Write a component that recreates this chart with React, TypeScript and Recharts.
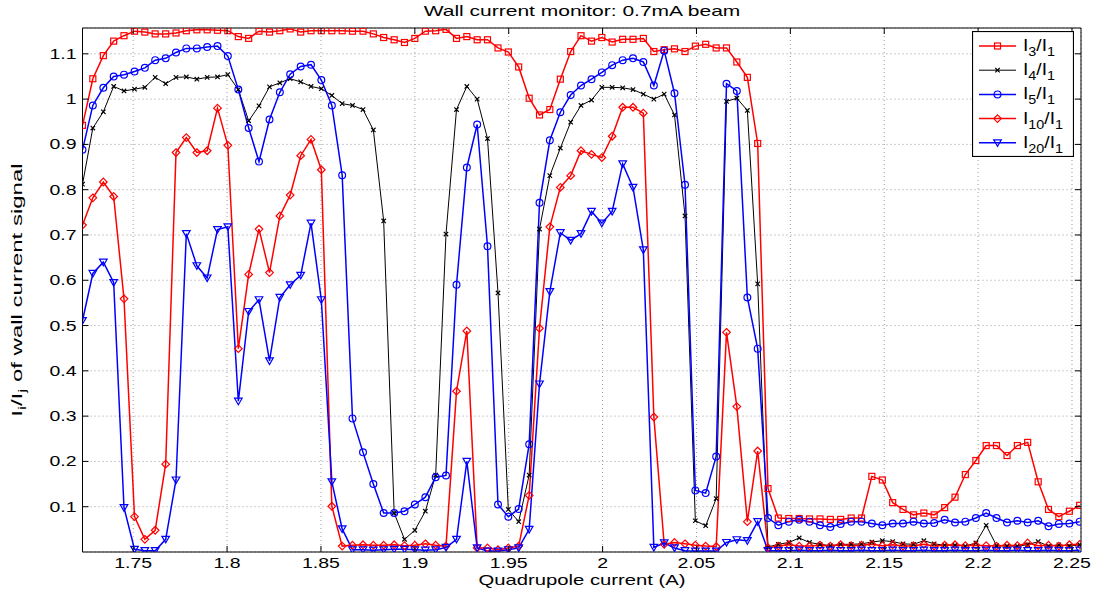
import React from "react";
import {
  LineChart,
  Line,
  XAxis,
  YAxis,
  CartesianGrid,
  ReferenceLine,
} from "recharts";

// quadrupole current (A), one entry per measurement
const currents = [
  1.723, 1.7285, 1.7341, 1.7396, 1.7451, 1.7507, 1.7562, 1.7617, 1.7673, 1.7728,
  1.7783, 1.7839, 1.7894, 1.7949, 1.8004, 1.806, 1.8115, 1.817, 1.8226, 1.8281,
  1.8336, 1.8392, 1.8447, 1.8502, 1.8558, 1.8613, 1.8668, 1.8724, 1.8779, 1.8834,
  1.889, 1.8945, 1.9, 1.9056, 1.9111, 1.9166, 1.9222, 1.9277, 1.9332, 1.9387,
  1.9443, 1.9498, 1.9553, 1.9609, 1.9664, 1.9719, 1.9775, 1.983, 1.9885, 1.9941,
  1.9996, 2.0051, 2.0107, 2.0162, 2.0217, 2.0273, 2.0328, 2.0383, 2.0439, 2.0494,
  2.0549, 2.0605, 2.066, 2.0715, 2.0771, 2.0826, 2.0881, 2.0936, 2.0992, 2.1047,
  2.1102, 2.1158, 2.1213, 2.1268, 2.1324, 2.1379, 2.1434, 2.149, 2.1545, 2.16,
  2.1656, 2.1711, 2.1766, 2.1822, 2.1877, 2.1932, 2.1988, 2.2043, 2.2098, 2.2154,
  2.2209, 2.2264, 2.232, 2.2375, 2.243, 2.2486, 2.2541,
];

const i3 = [
  0.942, 1.045, 1.096, 1.128, 1.14, 1.15, 1.148, 1.144, 1.144, 1.146,
  1.151, 1.153, 1.153, 1.152, 1.151, 1.138, 1.134, 1.15, 1.148, 1.151,
  1.155, 1.148, 1.151, 1.151, 1.151, 1.151, 1.15, 1.15, 1.144, 1.136,
  1.131, 1.125, 1.134, 1.15, 1.151, 1.154, 1.134, 1.138, 1.131, 1.131,
  1.113, 1.104, 1.071, 1.002, 0.965, 0.977, 1.044, 1.105, 1.14, 1.128,
  1.136, 1.126, 1.132, 1.132, 1.134, 1.105, 1.109, 1.111, 1.105, 1.117,
  1.121, 1.113, 1.113, 1.082, 1.048, 0.902, 0.14, 0.075, 0.074, 0.074,
  0.073, 0.073, 0.072, 0.072, 0.075, 0.075, 0.167, 0.159, 0.109, 0.094,
  0.082, 0.086, 0.082, 0.098, 0.121, 0.171, 0.202, 0.235, 0.235, 0.213,
  0.235, 0.242, 0.155, 0.094, 0.078, 0.09, 0.103,
];

const i4 = [
  0.812, 0.936, 0.972, 1.028, 1.018, 1.022, 1.026, 1.048, 1.034, 1.048,
  1.049, 1.044, 1.048, 1.049, 1.054, 1.021, 0.952, 0.985, 1.027, 1.036,
  1.045, 1.038, 1.028, 1.023, 1.008, 0.99, 0.986, 0.977, 0.932, 0.731,
  0.086, 0.028, 0.048, 0.09, 0.17, 0.702, 0.977, 1.028, 1.0, 0.913,
  0.572, 0.094, 0.067, 0.17, 0.713, 0.831, 0.892, 0.949, 0.986, 0.998,
  1.026, 1.026, 1.025, 1.021, 1.011, 1.0, 1.011, 0.965, 0.742, 0.069,
  0.058, 0.118, 0.995, 1.002, 0.975, 0.592, 0.011, 0.017, 0.021, 0.031,
  0.021, 0.017, 0.014, 0.017, 0.017, 0.018, 0.022, 0.025, 0.023, 0.018,
  0.017, 0.025, 0.018, 0.015, 0.015, 0.013, 0.02, 0.059, 0.014, 0.013,
  0.013, 0.016, 0.023, 0.013, 0.016, 0.013, 0.016,
];

const i5 = [
  0.888, 0.986, 1.025, 1.05, 1.054, 1.061, 1.069, 1.086, 1.09, 1.103,
  1.112, 1.112, 1.115, 1.117, 1.095, 1.021, 0.936, 0.862, 0.955, 1.015,
  1.055, 1.072, 1.076, 1.042, 0.986, 0.832, 0.295, 0.22, 0.15, 0.086,
  0.086, 0.09, 0.105, 0.121, 0.165, 0.169, 0.59, 0.849, 0.944, 0.675,
  0.105, 0.078, 0.095, 0.238, 0.771, 0.909, 0.971, 1.009, 1.03, 1.044,
  1.059, 1.075, 1.086, 1.09, 1.082, 1.03, 1.107, 1.013, 0.811, 0.136,
  0.13, 0.211, 1.034, 1.018, 0.562, 0.449, 0.075, 0.059, 0.067, 0.071,
  0.067, 0.059, 0.055, 0.062, 0.067, 0.067, 0.063, 0.059, 0.063, 0.063,
  0.067, 0.063, 0.064, 0.071, 0.065, 0.067, 0.075, 0.086, 0.075, 0.065,
  0.069, 0.065, 0.069, 0.057, 0.062, 0.063, 0.067,
];

const i10 = [
  0.722, 0.782, 0.817, 0.785, 0.559, 0.078, 0.028, 0.048, 0.194, 0.882,
  0.915, 0.882, 0.886, 0.98, 0.898, 0.449, 0.613, 0.713, 0.617, 0.742,
  0.788, 0.875, 0.911, 0.844, 0.101, 0.013, 0.015, 0.016, 0.015, 0.015,
  0.016, 0.014, 0.015, 0.018, 0.015, 0.013, 0.355, 0.488, 0.009, 0.009,
  0.005, 0.009, 0.013, 0.125, 0.494, 0.718, 0.805, 0.831, 0.886, 0.878,
  0.871, 0.918, 0.982, 0.982, 0.969, 0.298, 0.017, 0.021, 0.018, 0.015,
  0.013, 0.012, 0.485, 0.321, 0.067, 0.223, 0.009, 0.013, 0.016, 0.013,
  0.013, 0.015, 0.013, 0.016, 0.014, 0.015, 0.017, 0.014, 0.016, 0.013,
  0.014, 0.017, 0.013, 0.015, 0.016, 0.014, 0.015, 0.014, 0.013, 0.015,
  0.014, 0.02, 0.014, 0.015, 0.013, 0.016, 0.017,
];

const i20 = [
  0.511, 0.615, 0.64, 0.595, 0.098, 0.006, 0.003, 0.003, 0.028, 0.159,
  0.703, 0.632, 0.605, 0.712, 0.718, 0.333, 0.531, 0.557, 0.422, 0.562,
  0.59, 0.611, 0.726, 0.557, 0.155, 0.051, 0.005, 0.005, 0.004, 0.005,
  0.006, 0.006, 0.005, 0.004, 0.005, 0.01, 0.028, 0.2, 0.009, 0.002,
  0.002, 0.005, 0.009, 0.05, 0.371, 0.575, 0.705, 0.688, 0.703, 0.752,
  0.726, 0.752, 0.857, 0.805, 0.667, 0.01, 0.02, 0.009, 0.003, 0.002,
  0.002, 0.002, 0.021, 0.027, 0.025, 0.067, 0.003, 0.003, 0.003, 0.004,
  0.003, 0.003, 0.004, 0.003, 0.003, 0.004, 0.003, 0.003, 0.004, 0.003,
  0.003, 0.004, 0.003, 0.003, 0.004, 0.003, 0.003, 0.004, 0.003, 0.003,
  0.004, 0.003, 0.003, 0.004, 0.003, 0.003, 0.004,
];

const xTicks = [1.75, 1.8, 1.85, 1.9, 1.95, 2, 2.05, 2.1, 2.15, 2.2, 2.25];
const yTicks = [0.1, 0.2, 0.3, 0.4, 0.5, 0.6, 0.7, 0.8, 0.9, 1, 1.1];

const X_MIN = 1.723;
const X_MAX = 2.2548;
const Y_MAX = 1.157;

const data = currents.map((x, k) => ({
  x,
  i3: i3[k],
  i4: i4[k],
  i5: i5[k],
  i10: i10[k],
  i20: i20[k],
}));

type Kind = "square" | "x" | "circle" | "diamond" | "tri";

const series: { key: string; sub: string; color: string; kind: Kind; width: number }[] = [
  { key: "i3", sub: "3", color: "#ff0000", kind: "square", width: 1.5 },
  { key: "i4", sub: "4", color: "#000000", kind: "x", width: 1 },
  { key: "i5", sub: "5", color: "#0000ff", kind: "circle", width: 1.5 },
  { key: "i10", sub: "10", color: "#ff0000", kind: "diamond", width: 1.5 },
  { key: "i20", sub: "20", color: "#0000ff", kind: "tri", width: 1.5 },
];

const FONT = '"Liberation Sans", Arial, Helvetica, sans-serif';
const W = 1108;
const H = 594;
const LEFT = 82.5;
const RIGHT = 1081;
const TOP = 28;
const BOTTOM = 552;
const MID_X = (LEFT + RIGHT) / 2;
// the reference's lettering runs wide, so text is stretched along its line
const STRETCH = 1.3;

function Marker({ kind, cx, cy, color }: { kind: Kind; cx?: number; cy?: number; color: string }) {
  if (cx == null || cy == null || isNaN(cx) || isNaN(cy)) return null;
  const sw = 1.2;
  switch (kind) {
    case "square":
      return <rect x={cx - 3} y={cy - 3} width={6} height={6} fill="none" stroke={color} strokeWidth={sw} />;
    case "x":
      return (
        <path
          d={`M${cx - 2.2},${cy - 2.2}L${cx + 2.2},${cy + 2.2}M${cx - 2.2},${cy + 2.2}L${cx + 2.2},${cy - 2.2}`}
          stroke={color}
          strokeWidth={1.2}
        />
      );
    case "circle":
      return <circle cx={cx} cy={cy} r={3.4} fill="none" stroke={color} strokeWidth={sw} />;
    case "diamond":
      return (
        <path
          d={`M${cx},${cy - 3.8}L${cx + 3.8},${cy}L${cx},${cy + 3.8}L${cx - 3.8},${cy}Z`}
          fill="none"
          stroke={color}
          strokeWidth={sw}
        />
      );
    default:
      return (
        <path
          d={`M${cx - 3.8},${cy - 3}L${cx + 3.8},${cy - 3}L${cx},${cy + 3.6}Z`}
          fill="none"
          stroke={color}
          strokeWidth={sw}
        />
      );
  }
}

function XTick({ x, y, payload }: any) {
  return (
    <g>
      <line x1={x} x2={x} y1={y} y2={y - 6} stroke="#000" />
      <line x1={x} x2={x} y1={TOP} y2={TOP + 6} stroke="#000" />
      <text
        transform={`translate(${x},${y + 16}) scale(${STRETCH},1)`}
        textAnchor="middle"
        fontSize={15}
        fontFamily={FONT}
        fill="#000"
      >
        {String(payload.value)}
      </text>
    </g>
  );
}

function YTick({ x, y, payload }: any) {
  return (
    <g>
      <line x1={x} x2={x + 6} y1={y} y2={y} stroke="#000" />
      <line x1={RIGHT - 6} x2={RIGHT} y1={y} y2={y} stroke="#000" />
      <text
        transform={`translate(${x - 6},${y + 5}) scale(${STRETCH},1)`}
        textAnchor="end"
        fontSize={15}
        fontFamily={FONT}
        fill="#000"
      >
        {String(payload.value)}
      </text>
    </g>
  );
}

function LegendBox() {
  return (
    <svg width={102} height={126} style={{ display: "block" }}>
      <rect x={0.5} y={0.5} width={101} height={125} fill="#fff" stroke="#000" strokeWidth={1.2} />
      {series.map((s, k) => {
        const y = 15 + k * 24.2;
        return (
          <g key={s.key}>
            <line x1={7} x2={44} y1={y} y2={y} stroke={s.color} strokeWidth={s.width} />
            <Marker kind={s.kind} cx={25.5} cy={y} color={s.color} />
            <text
              transform={`translate(51,${y + 5}) scale(1.2,1)`}
              fontSize={16}
              fontFamily={FONT}
              fill="#000"
            >
              I
              <tspan fontSize={12} dy={5}>
                {s.sub}
              </tspan>
              <tspan dy={-5}>/I</tspan>
              <tspan fontSize={12} dy={5}>
                1
              </tspan>
            </text>
          </g>
        );
      })}
    </svg>
  );
}

const labelStyle: React.CSSProperties = {
  position: "absolute",
  fontSize: 15,
  lineHeight: "17px",
  whiteSpace: "nowrap",
  color: "#000",
};

export default function App() {
  return (
    <div style={{ position: "absolute", left: 0, top: 0, width: W, height: H, background: "#fff", fontFamily: FONT }}>
      <LineChart
        width={W}
        height={H}
        data={data}
        margin={{ top: TOP, right: W - RIGHT, bottom: 0, left: 0 }}
      >
        <CartesianGrid stroke="#9a9a9a" strokeDasharray="1 3" />
        <XAxis
          dataKey="x"
          type="number"
          domain={[X_MIN, X_MAX]}
          ticks={xTicks}
          allowDataOverflow
          height={H - BOTTOM}
          tickSize={0}
          tickMargin={0}
          tickLine={false}
          axisLine={{ stroke: "#000" }}
          tick={<XTick />}
          interval={0}
        />
        <YAxis
          type="number"
          domain={[0, Y_MAX]}
          ticks={yTicks}
          allowDataOverflow
          width={LEFT}
          tickSize={0}
          tickMargin={0}
          tickLine={false}
          axisLine={{ stroke: "#000" }}
          tick={<YTick />}
          interval={0}
        />
        <ReferenceLine y={Y_MAX} stroke="#000" />
        <ReferenceLine x={X_MAX} stroke="#000" />
        {series.map((s) => (
          <Line
            key={s.key}
            dataKey={s.key}
            type="linear"
            stroke={s.color}
            strokeWidth={s.width}
            isAnimationActive={false}
            activeDot={false}
            dot={(p: any) => (
              <Marker key={`${s.key}-${p.index}`} kind={s.kind} cx={p.cx} cy={p.cy} color={s.color} />
            )}
          />
        ))}
      </LineChart>
      <div style={{ position: "absolute", left: 972, top: 31 }}>
        <LegendBox />
      </div>
      <div style={{ ...labelStyle, left: MID_X, top: 2, transform: "translateX(-50%) scaleX(1.4)" }}>
        Wall current monitor: 0.7mA beam
      </div>
      <div style={{ ...labelStyle, left: MID_X, top: 571, transform: "translateX(-50%) scaleX(1.35)" }}>
        Quadrupole current (A)
      </div>
      <div
        style={{
          ...labelStyle,
          left: 19,
          top: (TOP + BOTTOM) / 2,
          lineHeight: "18px",
          transform: "translate(-50%, -50%) rotate(-90deg) scaleX(1.6)",
        }}
      >
        I<sub style={{ fontSize: 11 }}>i</sub>/I<sub style={{ fontSize: 11 }}>j</sub> of wall current signal
      </div>
    </div>
  );
}
